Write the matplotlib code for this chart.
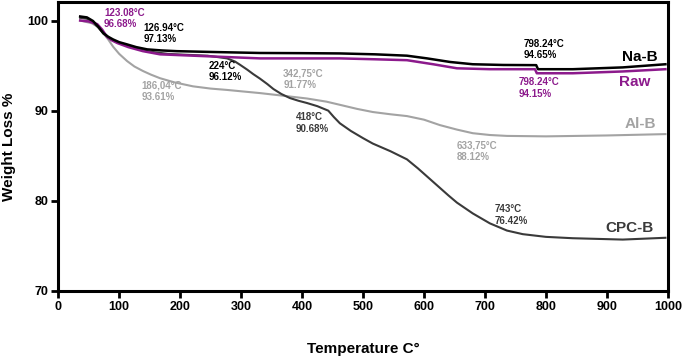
import numpy as np
import matplotlib
matplotlib.use("Agg")
import matplotlib.pyplot as plt

plt.rcParams['font.family'] = ['Liberation Sans', 'DejaVu Sans']
plt.rcParams['font.weight'] = 'bold'

# TGA curves (temperature in C, weight %)
nab_t = [36, 47, 57, 66, 74, 82, 90, 100, 113, 128, 146, 170, 195, 260, 331, 400, 462, 520, 572, 605, 643, 680, 730, 784, 787, 844, 926, 996]
nab_w = [100.45, 100.35, 99.95, 99.3, 98.6, 98.2, 97.9, 97.6, 97.35, 97.05, 96.8, 96.68, 96.6, 96.5, 96.4, 96.38, 96.35, 96.25, 96.1, 95.8, 95.4, 95.15, 95.07, 95.05, 94.6, 94.6, 94.8, 95.15]

raw_t = [36, 50, 64, 72, 80, 88, 97, 115, 139, 167, 221, 331, 400, 462, 520, 572, 615, 654, 708, 782, 785, 844, 926, 996]
raw_w = [100.0, 99.9, 99.6, 99.0, 98.2, 97.8, 97.5, 97.05, 96.6, 96.25, 96.1, 95.8, 95.8, 95.8, 95.7, 95.6, 95.15, 94.7, 94.6, 94.6, 94.15, 94.15, 94.35, 94.6]

alb_t = [36, 55, 65, 74, 82, 90, 100, 113, 125, 139, 152, 167, 190, 221, 250, 277, 300, 331, 370, 408, 440, 462, 490, 516, 545, 572, 600, 626, 654, 680, 708, 736, 800, 900, 996]
alb_w = [100.0, 99.7, 99.3, 98.6, 97.9, 97.1, 96.3, 95.5, 94.9, 94.4, 94.0, 93.6, 93.15, 92.7, 92.45, 92.3, 92.15, 91.95, 91.65, 91.35, 91.0, 90.65, 90.2, 89.85, 89.6, 89.4, 89.0, 88.4, 87.9, 87.5, 87.3, 87.2, 87.15, 87.25, 87.4]

cpc_t = [36, 47, 57, 66, 74, 82, 90, 100, 113, 130, 150, 180, 210, 245, 277, 290, 298, 310, 320, 331, 343, 353, 366, 380, 394, 408, 425, 443, 452, 462, 480, 500, 516, 545, 572, 590, 615, 640, 654, 680, 708, 736, 762, 800, 844, 926, 996]
cpc_w = [100.3, 100.2, 99.8, 99.2, 98.55, 98.1, 97.8, 97.5, 97.2, 96.85, 96.55, 96.3, 96.2, 96.1, 95.8, 95.45, 95.1, 94.55, 94.05, 93.55, 92.95, 92.4, 91.85, 91.4, 91.1, 90.85, 90.5, 90.0, 89.3, 88.6, 87.75, 86.95, 86.35, 85.5, 84.6, 83.6, 82.1, 80.6, 79.8, 78.6, 77.5, 76.7, 76.3, 76.0, 75.85, 75.7, 75.9]

# annotation texts
ann_text = ["123.08°C\n96.68%", "126.94°C\n97.13%", "224°C\n96.12%", "186,04°C\n93.61%",
            "342,75°C\n91.77%", "418°C\n90.68%", "798.24°C\n94.65%", "798.24°C\n94.15%",
            "633,75°C\n88.12%", "743°C\n76.42%"]
ann_x = [75, 140, 246, 136, 369, 389, 763, 755, 653, 716]
ann_y = [101.4, 99.7, 95.5, 93.3, 94.7, 89.8, 98.0, 93.7, 86.7, 79.6]
purple = '#8c1a8c'
grey = '#a3a3a3'
dark = '#3a3a3a'
ann_col = [purple, 'black', 'black', grey, grey, dark, 'black', purple, grey, dark]

# series labels
lab_text = ["Na-B", "Raw", "Al-B", "CPC-B"]
lab_x = [984, 972, 980, 977]
lab_y = [95.9, 93.2, 88.5, 77.0]
lab_col = ['black', purple, grey, dark]

fig = plt.figure(figsize=(6.85, 3.57), dpi=100)
ax = fig.add_axes([0.085, 0.185, 0.89, 0.808])

ax.plot(alb_t, alb_w, color=grey, linewidth=1.5)
ax.plot(cpc_t, cpc_w, color=dark, linewidth=1.5)
ax.plot(raw_t, raw_w, color=purple, linewidth=1.8)
ax.plot(nab_t, nab_w, color='black', linewidth=1.8)

for t, x, y, c in zip(ann_text, ann_x, ann_y, ann_col):
    ax.text(x, y, t, color=c, fontsize=7, fontweight='bold', va='top', ha='left', linespacing=1.15)

for t, x, y, c in zip(lab_text, lab_x, lab_y, lab_col):
    ax.text(x, y, t, color=c, fontsize=11, fontweight='bold', va='center', ha='right')

ax.set_xlim(0, 1000)
ax.set_ylim(70, 102)
ax.set_xticks(np.arange(0, 1001, 100))
ax.set_yticks([70, 80, 90, 100])
for s in ax.spines.values():
    s.set_linewidth(2.2)
ax.tick_params(axis='both', direction='out', length=5, width=2, labelsize=9, pad=2)
for lbl in ax.get_xticklabels() + ax.get_yticklabels():
    lbl.set_fontweight('bold')

ax.set_xlabel('Temperature C°', fontsize=11, fontweight='bold', labelpad=21)
ax.set_ylabel('Weight Loss %', fontsize=11, fontweight='bold', labelpad=8)

fig.savefig('out.png', dpi=100)
